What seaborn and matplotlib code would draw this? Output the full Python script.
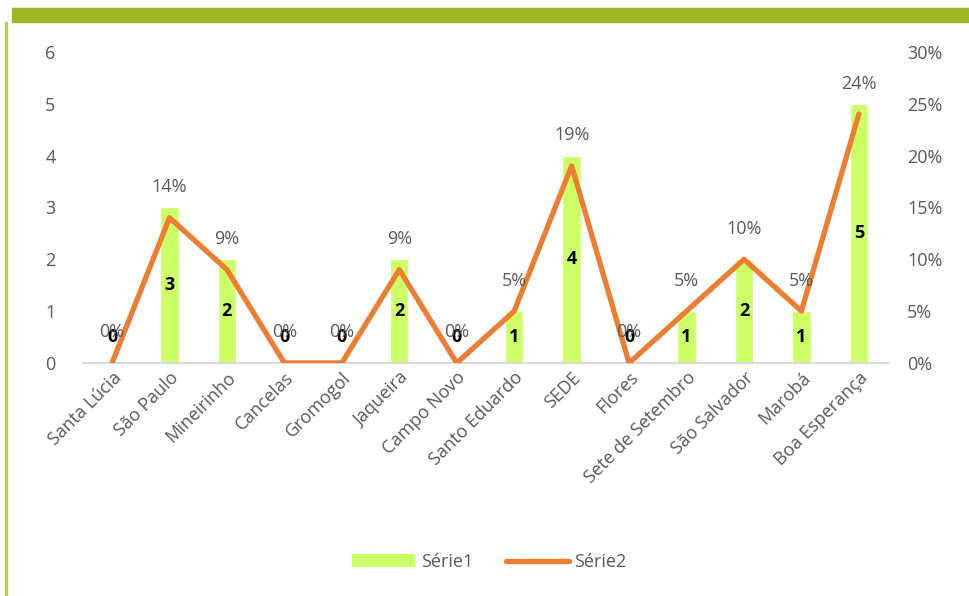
import numpy as np
import pandas as pd
import seaborn as sns
import matplotlib.pyplot as plt
from matplotlib.patches import Rectangle, Patch
from matplotlib.lines import Line2D

# Chart data
locais = ["Santa Lúcia", "São Paulo", "Mineirinho", "Cancelas", "Gromogol",
          "Jaqueira", "Campo Novo", "Santo Eduardo", "SEDE", "Flores",
          "Sete de Setembro", "São Salvador", "Marobá", "Boa Esperança"]
serie1 = [0, 3, 2, 0, 0, 2, 0, 1, 4, 0, 1, 2, 1, 5]
serie2 = [0, 0.14, 0.09, 0, 0, 0.09, 0, 0.05, 0.19, 0, 0.05, 0.10, 0.05, 0.24]
left_ticks = [0, 1, 2, 3, 4, 5, 6]
right_ticks = [0, 0.05, 0.10, 0.15, 0.20, 0.25, 0.30]

green = "#ccff66"
orange = "#ed7d31"
grey = "#595959"

sns.set_style("white")
plt.rcParams['font.family'] = ['Open Sans', 'DejaVu Sans']

df = pd.DataFrame({"local": locais, "Série1": serie1, "Série2": serie2})

fig = plt.figure(figsize=(9.69, 5.96), dpi=100)
ax = fig.add_axes([0.086, 0.391, 0.83, 0.522])

# bars
sns.barplot(data=df, x="local", y="Série1", color=green, width=0.32,
            saturation=1, ax=ax)
ax.set_ylim(0, 6)
ax.set_xlim(-0.5, 13.5)
ax.set_yticks(left_ticks)
ax.set_xlabel("")
ax.set_ylabel("")
ax.tick_params(axis="y", colors=grey, labelsize=13, length=0, pad=20)
ax.tick_params(axis="x", colors=grey, labelsize=13, length=0, pad=4)
plt.setp(ax.get_xticklabels(), rotation=45, ha="right", rotation_mode="anchor")

for i, v in enumerate(serie1):
    ax.text(i, max(v / 2, 0.5), str(v), ha="center", va="center",
            fontsize=13, fontweight="bold", color="black", zorder=5)

# line on secondary axis
ax2 = ax.twinx()
sns.lineplot(x=np.arange(len(locais)), y=serie2, color=orange, linewidth=3.8,
             ax=ax2, zorder=3)
ax2.set_ylim(0, 0.30)
ax2.set_yticks(right_ticks)
ax2.set_yticklabels([f"{int(round(t * 100))}%" for t in right_ticks])
ax2.tick_params(axis="y", colors=grey, labelsize=13, length=0, pad=14)

for i, v in enumerate(serie2):
    ax2.annotate(f"{int(round(v * 100))}%", (i, v), xytext=(0, 22),
                 textcoords="offset points", ha="center", va="center",
                 fontsize=13, color=grey)

for a in (ax, ax2):
    for s in a.spines.values():
        s.set_visible(False)
ax.spines["bottom"].set_visible(True)
ax.spines["bottom"].set_color("#d9d9d9")
ax.spines["bottom"].set_linewidth(1.5)

# legend
handles = [Patch(facecolor=green, edgecolor="none"),
           Line2D([0], [0], color=orange, linewidth=3.8, solid_capstyle="round")]
fig.legend(handles, ["Série1", "Série2"], loc="center", bbox_to_anchor=(0.505, 0.057),
           ncol=2, frameon=False, fontsize=13, labelcolor=grey,
           handlelength=3.5, handletextpad=0.3, columnspacing=1.8)

# frame decoration
olive = "#9fb521"
fig.patches.append(Rectangle((12 / 969, 1 - 22 / 596), 1, 14 / 596,
                             transform=fig.transFigure, color=olive, zorder=0))
fig.patches.append(Rectangle((5 / 969, 0), 1.5 / 969, 1 - 22 / 596,
                             transform=fig.transFigure, color="#b5c96a", zorder=0))

fig.savefig("out.png", dpi=100)
plt.close()
